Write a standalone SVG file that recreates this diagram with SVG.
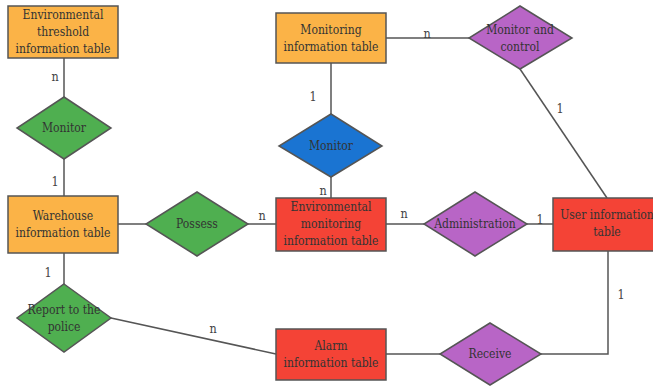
<svg xmlns="http://www.w3.org/2000/svg" width="653" height="386" viewBox="0 0 653 386">
<style>
text{font-family:"DejaVu Serif Condensed","DejaVu Serif","Liberation Serif",serif;font-stretch:condensed;font-size:12px;fill:#333;text-anchor:middle;dominant-baseline:central}
.lbl{font-size:12.5px;fill:#444}
.e{stroke:#555;stroke-width:1.5}
.or{fill:#FBB347}.rd{fill:#F44336}.gr{fill:#4FAF50}.bl{fill:#1A74D2}.pu{fill:#B865C6}
.c line,.c polyline{stroke:#555;stroke-width:1.5;fill:none}
</style>
<rect width="653" height="386" fill="#fff"/>
<g class="c" id="connectors">
<line x1="64" y1="58" x2="64" y2="97"/>
<line x1="64" y1="159" x2="64" y2="196"/>
<line x1="118" y1="224" x2="146" y2="224"/>
<line x1="248" y1="224" x2="276" y2="224"/>
<line x1="64" y1="253" x2="64" y2="284"/>
<line x1="111" y1="318" x2="276" y2="354"/>
<line x1="386" y1="354" x2="440" y2="354"/>
<polyline points="541,354 608,354 608,251"/>
<line x1="386" y1="224" x2="424" y2="224"/>
<line x1="527" y1="224" x2="553" y2="224"/>
<line x1="386" y1="38" x2="469" y2="38"/>
<line x1="520" y1="69" x2="607" y2="198"/>
<line x1="331" y1="63" x2="331" y2="114"/>
<line x1="331" y1="177" x2="331" y2="198"/>
</g>
<g id="labels">
<text class="lbl" x="55" y="76">n</text>
<text class="lbl" x="55" y="181">1</text>
<text class="lbl" x="262" y="215">n</text>
<text class="lbl" x="48" y="272">1</text>
<text class="lbl" x="213" y="328">n</text>
<text class="lbl" x="621" y="294">1</text>
<text class="lbl" x="404" y="213">n</text>
<text class="lbl" x="540" y="219">1</text>
<text class="lbl" x="427" y="33">n</text>
<text class="lbl" x="560" y="108">1</text>
<text class="lbl" x="313" y="96">1</text>
<text class="lbl" x="323" y="190">n</text>
</g>
<g id="env-threshold"><rect class="e or" x="8" y="6" width="110" height="52"/><text x="63" y="15">Environmental</text><text x="63" y="32">threshold</text><text x="63" y="49">information table</text></g>
<g id="monitor-left"><polygon class="e gr" points="64,97 111,128 64,159 17,128"/><text x="64" y="128">Monitor</text></g>
<g id="warehouse"><rect class="e or" x="8" y="196" width="110" height="57"/><text x="63" y="216">Warehouse</text><text x="63" y="233">information table</text></g>
<g id="possess"><polygon class="e gr" points="197,192 248,224 197,256 146,224"/><text x="197" y="224">Possess</text></g>
<g id="report"><polygon class="e gr" points="64,284 111,318 64,352 17,318"/><text x="64" y="310">Report to the</text><text x="64" y="327">police</text></g>
<g id="env-monitoring"><rect class="e rd" x="276" y="198" width="110" height="53"/><text x="331" y="207">Environmental</text><text x="331" y="224">monitoring</text><text x="331" y="241">information table</text></g>
<g id="alarm"><rect class="e rd" x="276" y="329" width="110" height="51"/><text x="331" y="346">Alarm</text><text x="331" y="363">information table</text></g>
<g id="receive"><polygon class="e pu" points="490,323 541,354 490,385 440,354"/><text x="490" y="354">Receive</text></g>
<g id="user"><rect class="e rd" x="553" y="198" width="110" height="53"/><text x="607" y="215">User information</text><text x="607" y="232">table</text></g>
<g id="administration"><polygon class="e pu" points="475,192 527,224 475,256 424,224"/><text x="475" y="224">Administration</text></g>
<g id="monitoring-info"><rect class="e or" x="276" y="13" width="110" height="50"/><text x="331" y="30">Monitoring</text><text x="331" y="47">information table</text></g>
<g id="monitor-control"><polygon class="e pu" points="520,6 572,38 520,69 469,38"/><text x="520" y="30">Monitor and</text><text x="520" y="47">control</text></g>
<g id="monitor-blue"><polygon class="e bl" points="331,114 382,146 331,177 279,146"/><text x="331" y="146">Monitor</text></g>
</svg>
